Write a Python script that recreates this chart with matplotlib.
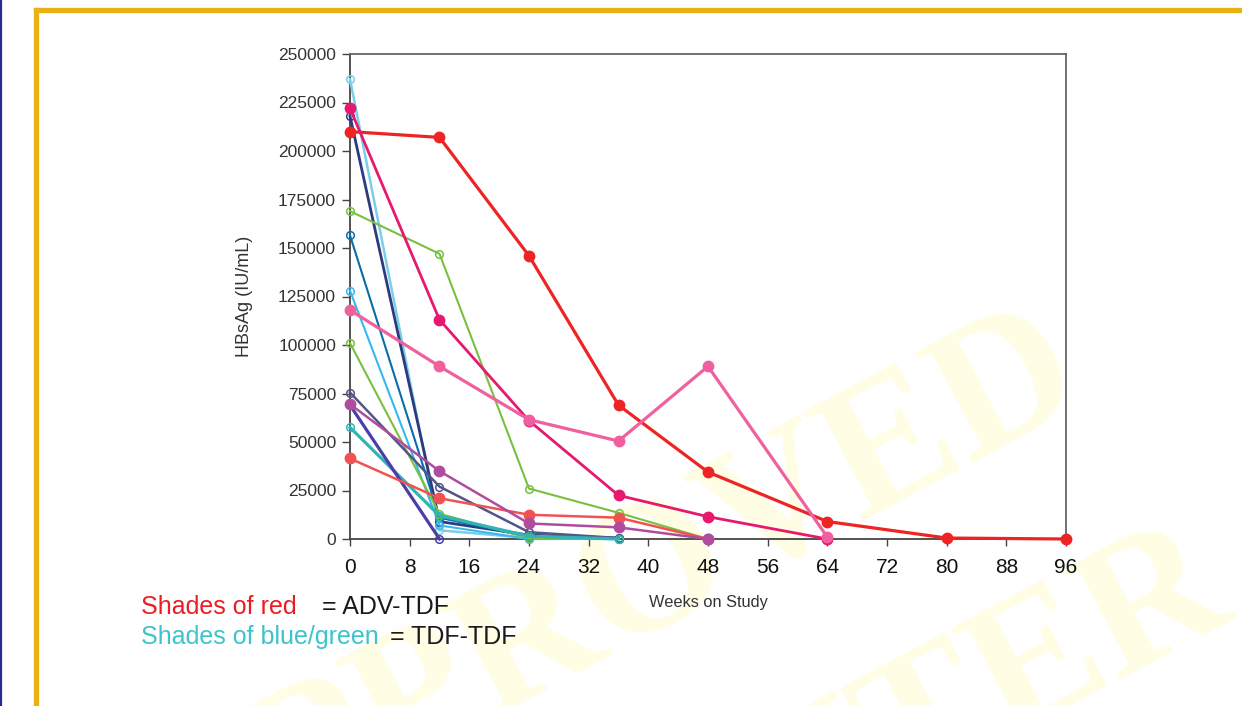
import matplotlib
matplotlib.use('Agg')
import matplotlib.pyplot as plt
from matplotlib.lines import Line2D

plt.rcParams['font.family'] = ['Liberation Sans', 'DejaVu Sans']

# HBsAg (IU/mL) per patient, by week on study
# ADV-TDF arm (shades of red)
adv_weeks = [
    [0, 12, 24, 36, 48, 64, 80, 96],
    [0, 12, 24, 36, 48, 64],
    [0, 12, 24, 36, 48, 64],
    [0, 12, 24, 36, 48],
    [0, 12, 24, 36, 48],
]
adv_values = [
    [210000, 207000, 146000, 69000, 34500, 9000, 500, 0],
    [222000, 113000, 61000, 22500, 11500, 0],
    [118000, 89000, 61500, 50500, 89000, 1000],
    [41500, 21000, 12500, 11000, 0],
    [69500, 35000, 8000, 6000, 0],
]
adv_colors = ['#ee2424', '#e8186e', '#f0609e', '#f05252', '#b04ca0']
adv_widths = [2.3, 2.0, 2.3, 1.8, 1.8]

# TDF-TDF arm (shades of blue/green)
tdf_weeks = [
    [0, 12, 24, 36],
    [0, 12, 24, 36],
    [0, 12, 24, 36, 48],
    [0, 12, 24, 36],
    [0, 12, 24, 36],
    [0, 12, 24, 36],
    [0, 12, 24, 36],
    [0, 12, 24, 36],
    [0, 12],
]
tdf_values = [
    [237000, 4500, 500, 0],
    [218000, 9000, 2000, 500],
    [169000, 147000, 26000, 13500, 0],
    [156500, 11000, 1000, 0],
    [128000, 7000, 0, 0],
    [101000, 13000, 500, 0],
    [75500, 27000, 3500, 500],
    [57500, 12000, 1500, 0],
    [69000, 0],
]
tdf_colors = ['#7ad0e6', '#2c3a80', '#78c040', '#0a6ca8', '#38b8f0',
              '#78c040', '#545488', '#30b4b4', '#4a3fa8']
tdf_widths = [1.8, 2.0, 1.5, 1.5, 1.5, 1.5, 1.8, 2.3, 2.3]

x_ticks = list(range(0, 97, 8))
y_ticks = list(range(0, 250001, 25000))

fig = plt.figure(figsize=(12.42, 7.06), dpi=100)
fig.patch.set_facecolor('white')

# faint watermark lettering behind the chart
wm = dict(rotation=28, fontsize=135, fontweight='bold', family='Liberation Serif',
          color='#fffde4', ha='center', va='center', zorder=-2)
fig.text(0.49, 0.145, 'APPROVED', **wm)
fig.text(0.70, -0.07, 'CENTER', **wm)

# slide frame: blue rule at far left, gold rules
fig.add_artist(Line2D([0.001, 0.001], [0, 1], color='#2a2a90', lw=1.6,
                      transform=fig.transFigure))
fig.add_artist(Line2D([35.5 / 1242, 35.5 / 1242], [0, 1 - 9.5 / 706],
                      color='#e9b114', lw=3.8, transform=fig.transFigure,
                      solid_capstyle='projecting'))
fig.add_artist(Line2D([35.5 / 1242, 1], [1 - 9.5 / 706, 1 - 9.5 / 706],
                      color='#e9b114', lw=3.8, transform=fig.transFigure,
                      solid_capstyle='projecting'))

ax = fig.add_axes([350 / 1242, 1 - 539 / 706, 716 / 1242, 485 / 706])
ax.patch.set_alpha(0)

for wk, vals, c, lw in zip(tdf_weeks, tdf_values, tdf_colors, tdf_widths):
    ax.plot(wk, vals, color=c, lw=lw, marker='o', ms=5.5, mfc='none',
            mec=c, mew=1.1, clip_on=False, zorder=3)

for wk, vals, c, lw in zip(adv_weeks, adv_values, adv_colors, adv_widths):
    ax.plot(wk, vals, color=c, lw=lw, marker='o', ms=7.5, mfc=c,
            mec=c, clip_on=False, zorder=4)

ax.set_xlim(0, 96)
ax.set_ylim(0, 250000)
ax.set_xticks(x_ticks)
ax.set_yticks(y_ticks)
ax.set_xticklabels([str(t) for t in x_ticks], fontsize=15, color='#111111')
ax.set_yticklabels([str(t) for t in y_ticks], fontsize=12.5, color='#333333')
ax.tick_params(axis='x', direction='out', length=5, width=1, pad=9,
               color='#444444')
ax.tick_params(axis='y', direction='out', length=6, width=1, pad=4,
               color='#444444')

for side in ['top', 'right']:
    ax.spines[side].set_color('#666666')
    ax.spines[side].set_linewidth(1.3)
for side in ['left', 'bottom']:
    ax.spines[side].set_color('#444444')
    ax.spines[side].set_linewidth(1.3)

ax.set_xlabel('Weeks on Study', fontsize=11.8, color='#333333')
ax.xaxis.set_label_coords(0.5, -0.115)
ax.set_ylabel('HBsAg (IU/mL)', fontsize=13, color='#333333')
ax.yaxis.set_label_coords(-0.135, 0.5)

# arm key beneath the chart
fig.text(141 / 1242, 1 - 607 / 706, 'Shades of red', fontsize=18,
         color='#ec1c24', ha='left', va='center')
fig.text(322 / 1242, 1 - 607 / 706, '= ADV-TDF', fontsize=18,
         color='#1a1a1a', ha='left', va='center')
fig.text(141 / 1242, 1 - 637 / 706, 'Shades of blue/green', fontsize=18,
         color='#3cc4cc', ha='left', va='center')
fig.text(390 / 1242, 1 - 637 / 706, '= TDF-TDF', fontsize=18,
         color='#1a1a1a', ha='left', va='center')

fig.savefig('out.png', dpi=100, facecolor='white')
